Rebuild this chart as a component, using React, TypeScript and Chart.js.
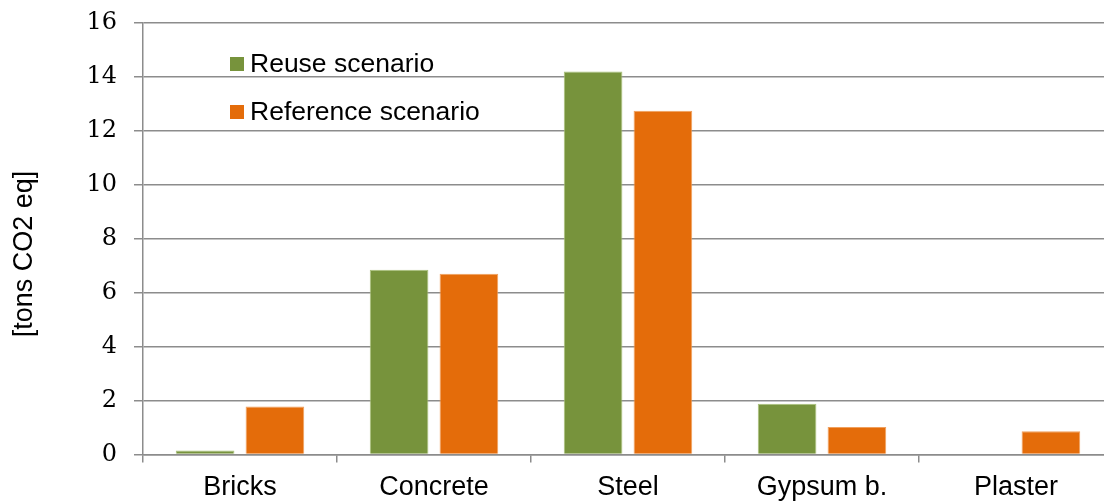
import React, { useEffect, useRef } from "react";
import { Chart, registerables } from "chart.js";

Chart.register(...registerables);

// Materials compared on the horizontal axis
const categories = ["Bricks", "Concrete", "Steel", "Gypsum b.", "Plaster"];

// Emissions per material, tons CO2 eq
const reuseValues = [0.15, 6.85, 14.2, 1.88, 0];
const referenceValues = [1.78, 6.7, 12.75, 1.02, 0.86];

const seriesLabels = ["Reuse scenario", "Reference scenario"];
const seriesColors = ["#77933C", "#E46C0A"];
const seriesBorders = ["#A9C27A", "#F0A05E"];

const yTitle = "[tons CO2 eq]";
const yMin = 0;
const yMax = 16;
const yStep = 2;

const SANS = "Liberation Sans, Arial, sans-serif";
const SERIF = "DejaVu Serif, serif";
const GRID = "#8c8c8c";

// Draws the in-plot legend and the vertical axis title
const overlayPlugin = {
  id: "overlay",
  afterDraw(chart: Chart) {
    const ctx = chart.ctx;
    ctx.save();
    ctx.font = `26.5px ${SANS}`;
    ctx.textBaseline = "middle";
    ctx.textAlign = "left";
    const rows = [64, 112];
    chart.data.datasets.forEach((ds, i) => {
      const y = rows[i];
      ctx.fillStyle = seriesColors[i];
      ctx.fillRect(230, y - 7, 14, 14);
      ctx.fillStyle = "#000";
      ctx.fillText(String(ds.label), 250, y + 1);
    });

    ctx.translate(25, 254);
    ctx.rotate(-Math.PI / 2);
    ctx.textAlign = "center";
    ctx.font = `27px ${SANS}`;
    ctx.fillStyle = "#000";
    ctx.fillText(yTitle, 0, 0);
    ctx.restore();
  },
};

export default function App() {
  const canvasRef = useRef<HTMLCanvasElement | null>(null);

  useEffect(() => {
    if (!canvasRef.current) return;
    const chart = new Chart(canvasRef.current, {
      type: "bar",
      data: {
        labels: categories,
        datasets: [
          {
            label: seriesLabels[0],
            data: reuseValues,
            backgroundColor: seriesColors[0],
            borderColor: seriesBorders[0],
            borderWidth: 1,
          },
          {
            label: seriesLabels[1],
            data: referenceValues,
            backgroundColor: seriesColors[1],
            borderColor: seriesBorders[1],
            borderWidth: 1,
          },
        ],
      },
      options: {
        animation: false,
        responsive: false,
        devicePixelRatio: 1,
        datasets: {
          bar: { categoryPercentage: 0.72, barPercentage: 0.84 },
        },
        layout: { padding: { top: 23, right: 0, bottom: 0, left: 0 } },
        plugins: {
          legend: { display: false },
          tooltip: { enabled: false },
        },
        scales: {
          x: {
            grid: {
              offset: true,
              drawOnChartArea: false,
              drawTicks: true,
              tickLength: 8,
              color: GRID,
              lineWidth: 1.5,
            },
            border: { display: true, color: GRID, width: 1.5 },
            ticks: {
              color: "#000",
              font: { family: SANS, size: 27 },
              padding: 9,
              maxRotation: 0,
            },
            afterFit(scale: any) {
              scale.height = 47.5;
              scale.paddingLeft = 0;
              scale.paddingRight = 0;
            },
          },
          y: {
            min: yMin,
            max: yMax,
            grid: {
              color: GRID,
              lineWidth: 1.5,
              drawTicks: true,
              tickLength: 9,
            },
            border: { display: true, color: GRID, width: 1.5 },
            ticks: {
              stepSize: yStep,
              color: "#000",
              font: { family: SERIF, size: 24 },
              padding: 17,
            },
            afterFit(scale: any) {
              scale.width = 143;
              scale.paddingTop = 0;
              scale.paddingBottom = 0;
            },
          },
        },
      },
      plugins: [overlayPlugin],
    });
    return () => chart.destroy();
  }, []);

  return (
    <div
      style={{
        position: "fixed",
        left: 0,
        top: 0,
        width: 1104,
        height: 502,
        overflow: "hidden",
        background: "#fff",
      }}
    >
      <canvas ref={canvasRef} width={1113} height={502} style={{ display: "block" }} />
    </div>
  );
}
